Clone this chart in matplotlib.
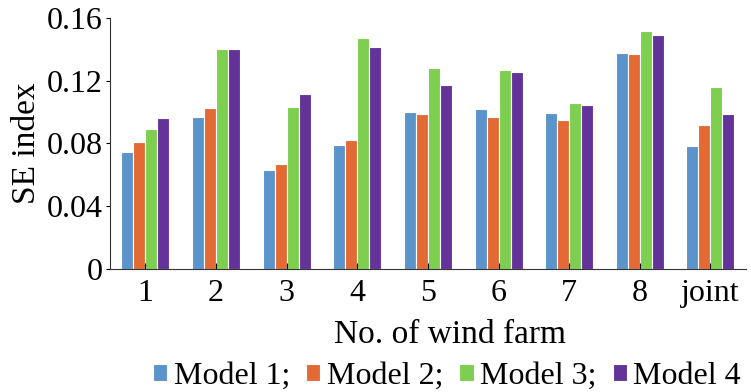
import numpy as np
import matplotlib.pyplot as plt

plt.rcParams["font.family"] = ["Liberation Serif", "DejaVu Serif"]

farms = ["1", "2", "3", "4", "5", "6", "7", "8", "joint"]
model1 = [0.0748, 0.0971, 0.0633, 0.0788, 0.1003, 0.1018, 0.0996, 0.1377, 0.0782]
model2 = [0.0810, 0.1026, 0.0667, 0.0822, 0.0990, 0.0971, 0.0952, 0.1370, 0.0918]
model3 = [0.0890, 0.1402, 0.1030, 0.1474, 0.1279, 0.1266, 0.1058, 0.1517, 0.1158]
model4 = [0.0964, 0.1402, 0.1117, 0.1415, 0.1173, 0.1256, 0.1045, 0.1492, 0.0990]
labels = ["Model 1;", "Model 2;", "Model 3;", "Model 4"]
colors = ["#5B93CB", "#E46A35", "#7ECE50", "#643399"]

fig = plt.figure(figsize=(7.51, 3.92), dpi=100)
ax = fig.add_axes([0.1465, 0.314, 0.8465, 0.64])

x = np.arange(len(farms))
slot = 0.17
for i, vals in enumerate([model1, model2, model3, model4]):
    ax.bar(x + (i - 1.5) * slot, vals, width=slot, color=colors[i],
           edgecolor="white", linewidth=0.8, label=labels[i])

ax.set_xlim(-0.5, 8.5)
ax.set_ylim(0, 0.16)
ax.set_yticks([0, 0.04, 0.08, 0.12, 0.16])
ax.set_yticklabels(["0", "0.04", "0.08", "0.12", "0.16"])
ax.set_xticks(x)
ax.set_xticklabels(farms)
ax.tick_params(axis="x", direction="in", length=4, labelsize=23, pad=7)
ax.tick_params(axis="y", direction="out", length=3, labelsize=23, pad=2)
for s in ["top", "right"]:
    ax.spines[s].set_visible(False)
ax.spines["left"].set_color("#333333")
ax.spines["bottom"].set_color("#333333")

ax.set_ylabel("SE index", fontsize=24, labelpad=4)
ax.set_xlabel("No. of wind farm", fontsize=24)
ax.xaxis.set_label_coords(0.535, -0.2)

ax.legend(loc="upper center", bbox_to_anchor=(0.53, -0.32), ncol=4,
          frameon=False, fontsize=23, handlelength=0.45, handleheight=0.45,
          handletextpad=0.2, columnspacing=0.5, borderaxespad=0)

fig.savefig("out.png", dpi=100)
